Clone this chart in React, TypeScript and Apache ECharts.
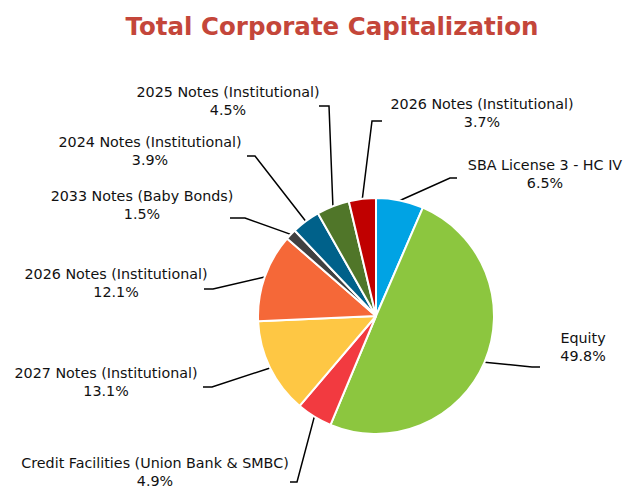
import React, { useEffect, useRef } from "react";
import * as echarts from "echarts";

const categories = [
  "SBA License 3 - HC IV",
  "Equity",
  "Credit Facilities (Union Bank & SMBC)",
  "2027 Notes (Institutional)",
  "2026 Notes (Institutional)",
  "2033 Notes (Baby Bonds)",
  "2024 Notes (Institutional)",
  "2025 Notes (Institutional)",
  "2026 Notes (Institutional)",
];
const shares = [6.5, 49.8, 4.9, 13.1, 12.1, 1.5, 3.9, 4.5, 3.7];
const colors = [
  "#00A3E4",
  "#8CC63F",
  "#F23A40",
  "#FEC744",
  "#F56838",
  "#404040",
  "#00618A",
  "#507629",
  "#C00000",
];

// label placement (layout only)
const labelLayoutSpec = [
  { x: 545, y: 174, ex: 457, ey: 178, kx: -7 },
  { x: 583, y: 347, ex: 540, ey: 367, kx: -8 },
  { x: 155, y: 472, ex: 290, ey: 482, kx: 7 },
  { x: 106, y: 382, ex: 203, ey: 387, kx: 9 },
  { x: 116, y: 283, ex: 204, ey: 289, kx: 9 },
  { x: 142, y: 205, ex: 230, ey: 218, kx: 15 },
  { x: 150, y: 151, ex: 247, ey: 156, kx: 8 },
  { x: 228, y: 101, ex: 319, ey: 106, kx: 10 },
  { x: 482, y: 113, ex: 382, ey: 121, kx: -10 },
];

const CX = 376;
const CY = 316;
const R = 118;

export default function App() {
  const ref = useRef<HTMLDivElement>(null);
  useEffect(() => {
    document.body.style.margin = "0";
    if (!ref.current) return;
    const chart = echarts.init(ref.current, null, { renderer: "svg" });
    const total = shares.reduce((a, b) => a + b, 0);
    const anchorFor = (i: number) => {
      let before = 0;
      for (let k = 0; k < i; k++) before += shares[k];
      const mid = 90 - ((before + shares[i] / 2) / total) * 360;
      const rad = (mid * Math.PI) / 180;
      return [CX + R * Math.cos(rad), CY - R * Math.sin(rad)];
    };
    chart.setOption({
      animation: false,
      backgroundColor: "#ffffff",
      title: {
        text: "Total Corporate Capitalization",
        left: 327,
        top: 9,
        textAlign: "center",
        textStyle: {
          fontFamily: "DejaVu Sans",
          fontSize: 24.5,
          fontWeight: "bold",
          color: "#C4463A",
        },
      },
      series: [
        {
          type: "pie",
          center: [CX, CY],
          radius: R,
          startAngle: 90,
          clockwise: true,
          avoidLabelOverlap: false,
          minShowLabelAngle: 0,
          itemStyle: { borderColor: "#ffffff", borderWidth: 2 },
          label: {
            show: true,
            position: "outside",
            fontFamily: "DejaVu Sans",
            fontSize: 14.3,
            lineHeight: 18.5,
            color: "#111111",
            align: "center",
            formatter: (p: any) => `${p.name}\n${p.value.toFixed(1)}%`,
          },
          labelLine: {
            show: true,
            length: 10,
            length2: 10,
            lineStyle: { color: "#000000", width: 1.5 },
          },
          labelLayout: (params: any) => {
            const L = labelLayoutSpec[params.dataIndex];
            const a = anchorFor(params.dataIndex);
            return {
              x: L.x,
              y: L.y,
              align: "center",
              verticalAlign: "middle",
              labelLinePoints: [a, [L.ex + L.kx, L.ey], [L.ex, L.ey]],
            };
          },
          emphasis: { disabled: true },
          data: categories.map((name, i) => ({
            name,
            value: shares[i],
            itemStyle: { color: colors[i] },
          })),
        },
      ],
    });
    return () => chart.dispose();
  }, []);
  return <div ref={ref} style={{ width: 640, height: 501 }} />;
}
